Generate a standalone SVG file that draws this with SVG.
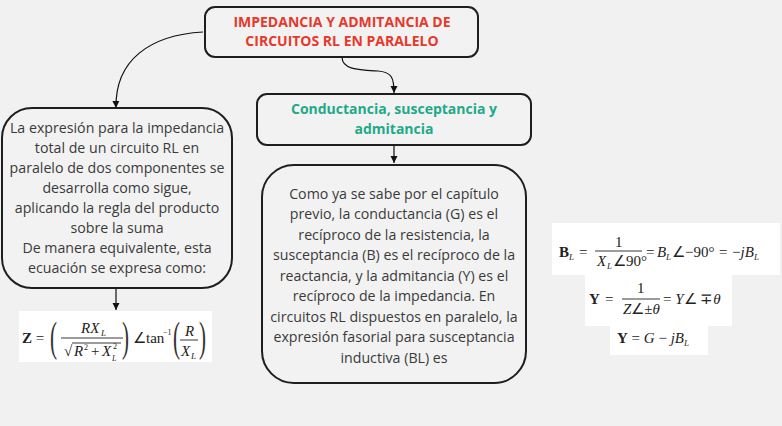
<svg xmlns="http://www.w3.org/2000/svg" width="782" height="426" viewBox="0 0 782 426">
<defs>
<marker id="ah" viewBox="0 0 10 10" refX="10" refY="5" markerWidth="7" markerHeight="10" markerUnits="userSpaceOnUse" orient="auto">
<path d="M0,0 L10,5 L0,10 Z" fill="#111"/>
</marker>
</defs>
<style>
.box{fill:#f2f2f2;stroke:#1e1e1e;stroke-width:2}
.t{font-family:"Open Sans","Liberation Sans",sans-serif;font-size:14.2px;fill:#3a3a3a;text-anchor:middle}
.title{font-family:"Open Sans","Liberation Sans",sans-serif;font-size:14px;font-weight:bold;fill:#e8382b;text-anchor:middle}
.sub{font-family:"Open Sans","Liberation Sans",sans-serif;font-size:14px;font-weight:bold;fill:#1daa8a;text-anchor:middle}
.m{font-family:"Liberation Serif","Times New Roman",serif;font-size:15px;fill:#222}
.mi{font-style:italic}
.mb{font-weight:bold}
.s{font-size:9px}
.ss{font-size:8px}
.p{font-family:"Liberation Serif","Times New Roman",serif;font-size:42px;fill:#333}
.fl{stroke:#222;stroke-width:0.9}
.conn{fill:none;stroke:#111;stroke-width:1.2}
.eq{fill:#ffffff}
</style>
<rect width="782" height="426" fill="#f1f1f1"/>

<g id="connectors">
<path class="conn" d="M203,32 C150,35 115,60 116,108" marker-end="url(#ah)"/>
<path class="conn" d="M342,57 C342,70 360,70 378,71 C392,72 394,78 394,93" marker-end="url(#ah)"/>
<path class="conn" d="M394,146 L394,163" marker-end="url(#ah)"/>
<path class="conn" d="M116,289 L116,310" marker-end="url(#ah)"/>
</g>

<g id="title">
<rect class="box" x="205" y="7" width="273" height="50" rx="10"/>
<text class="title" x="342" y="27">IMPEDANCIA Y ADMITANCIA DE</text>
<text class="title" x="342" y="46">CIRCUITOS RL EN PARALELO</text>
</g>

<g id="left">
<rect class="box" x="2" y="108" width="230" height="180" rx="30"/>
<text class="t" x="117" y="133">La expresión para la impedancia</text>
<text class="t" x="117" y="153">total de un circuito RL en</text>
<text class="t" x="117" y="173">paralelo de dos componentes se</text>
<text class="t" x="117" y="193">desarrolla como sigue,</text>
<text class="t" x="117" y="213">aplicando la regla del producto</text>
<text class="t" x="117" y="233">sobre la suma</text>
<text class="t" x="117" y="253">De manera equivalente, esta</text>
<text class="t" x="117" y="273">ecuación se expresa como:</text>
</g>

<g id="sub">
<rect class="box" x="257" y="94" width="274" height="51" rx="10"/>
<text class="sub" x="394" y="114">Conductancia, susceptancia y</text>
<text class="sub" x="394" y="134">admitancia</text>
</g>

<g id="center">
<rect class="box" x="262" y="165" width="264" height="218" rx="32"/>
<text class="t" x="394" y="199">Como ya se sabe por el capítulo</text>
<text class="t" x="394" y="219">previo, la conductancia (G) es el</text>
<text class="t" x="394" y="240">recíproco de la resistencia, la</text>
<text class="t" x="394" y="260">susceptancia (B) es el recíproco de la</text>
<text class="t" x="394" y="281">reactancia, y la admitancia (Y) es el</text>
<text class="t" x="394" y="301">recíproco de la impedancia. En</text>
<text class="t" x="394" y="322">circuitos RL dispuestos en paralelo, la</text>
<text class="t" x="394" y="342">expresión fasorial para susceptancia</text>
<text class="t" x="394" y="363">inductiva (BL) es</text>
</g>

<g id="eqZ">
<rect class="eq" x="19" y="311" width="193" height="51"/>
<text class="m" x="22" y="343"><tspan class="mb">Z</tspan> =</text>
<text class="p" x="50" y="351" transform="translate(50 351) scale(0.5 1) translate(-50 -351)">(</text>
<text class="m mi" x="81" y="333">RX</text>
<text class="m mi s" x="101" y="336">L</text>
<line class="fl" x1="61" y1="338" x2="123" y2="338"/>
<text class="m" x="64" y="356">√</text>
<line class="fl" x1="72" y1="343" x2="121" y2="343"/>
<text class="m mi" x="74" y="356">R</text>
<text class="m ss" x="84" y="350">2</text>
<text class="m" x="91" y="356">+</text>
<text class="m mi" x="102" y="356">X</text>
<text class="m ss" x="113" y="349">2</text>
<text class="m mi ss" x="112" y="361">L</text>
<text class="p" x="122" y="351" transform="translate(122 351) scale(0.5 1) translate(-122 -351)">)</text>
<text class="m" x="133" y="343">∠tan</text>
<text class="m ss" x="163" y="335">−1</text>
<text class="p" x="173" y="351" transform="translate(173 351) scale(0.5 1) translate(-173 -351)">(</text>
<text class="m mi" x="185" y="336">R</text>
<line class="fl" x1="180" y1="340" x2="198" y2="340"/>
<text class="m mi" x="181" y="356">X</text>
<text class="m mi s" x="191" y="359">L</text>
<text class="p" x="199" y="351" transform="translate(199 351) scale(0.5 1) translate(-199 -351)">)</text>
</g>

<g id="eqB">
<rect class="eq" x="552" y="223" width="228" height="52"/>
<text class="m mb" x="559" y="257">B</text>
<text class="m mi s" x="569" y="260">L</text>
<text class="m" x="579" y="257">=</text>
<text class="m" x="615" y="247">1</text>
<line class="fl" x1="595" y1="251" x2="642" y2="251"/>
<text class="m mi" x="597" y="266">X</text>
<text class="m mi s" x="607" y="269">L</text>
<text class="m" x="613" y="266">∠90°</text>
<text class="m" x="646" y="257">=</text>
<text class="m mi" x="657" y="257">B</text>
<text class="m mi s" x="666" y="260">L</text>
<text class="m" x="672" y="257">∠−90°</text>
<text class="m" x="719" y="257">=</text>
<text class="m" x="732" y="257">−<tspan class="mi">jB</tspan></text>
<text class="m mi s" x="754" y="260">L</text>
</g>

<g id="eqY1">
<rect class="eq" x="585" y="275" width="147" height="51"/>
<text class="m mb" x="589" y="304">Y</text>
<text class="m" x="605" y="304">=</text>
<text class="m" x="637" y="293">1</text>
<line class="fl" x1="622" y1="299" x2="660" y2="299"/>
<text class="m" x="623" y="314"><tspan class="mi">Z</tspan>∠±<tspan class="mi">θ</tspan></text>
<text class="m" x="663" y="304">= <tspan class="mi">Y</tspan>∠ ∓<tspan class="mi">θ</tspan></text>
</g>

<g id="eqY2">
<rect class="eq" x="610" y="326" width="98" height="29"/>
<text class="m" x="617" y="343"><tspan class="mb">Y</tspan> = <tspan class="mi">G</tspan> − <tspan class="mi">jB</tspan></text>
<text class="m mi s" x="684" y="346">L</text>
</g>
</svg>
